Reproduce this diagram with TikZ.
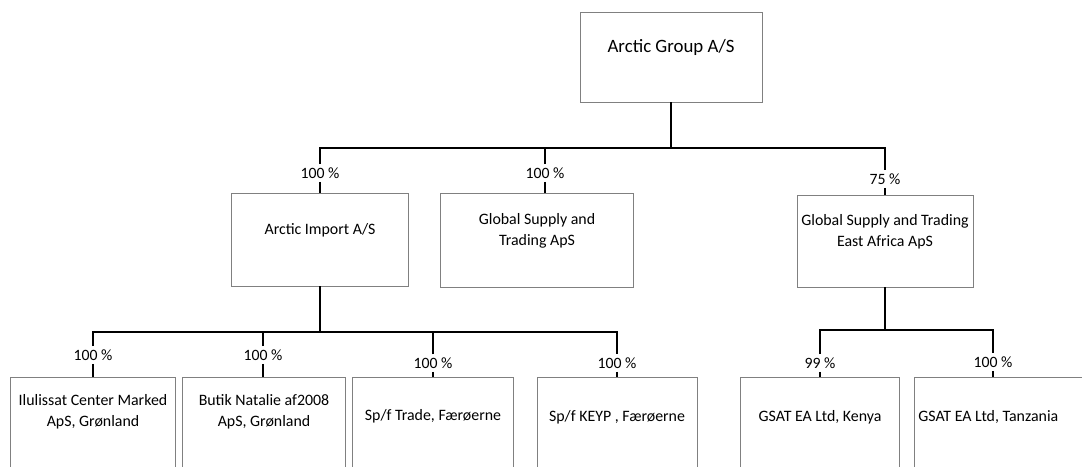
\documentclass[tikz,border=0pt]{standalone}
\usepackage{fontspec}
\setmainfont{Carlito}
\usetikzlibrary{positioning}

\begin{document}
\begin{tikzpicture}[x=0.025cm,y=-0.025cm]
		\tikzstyle{box_style} = [rectangle,draw=black!50,line width=0.5pt,inner sep=0pt]
		\tikzstyle{name_style} = [align=center,inner sep=0pt,font=\fontsize{11.3}{15}\selectfont]
		\tikzstyle{pct_style} = [inner sep=2.3pt,font=\fontsize{11.2}{13}\selectfont]
		\tikzstyle{edge_style} = [draw=black,line width=1.3pt]
		\useasboundingbox (0,0) rectangle (1082,466);
		% boxes
		\node[box_style,minimum width=4.55cm,minimum height=2.25cm] (top) at (671,57) {};
		\node[box_style,minimum width=4.425cm,minimum height=2.325cm] (ai) at (320,239.5) {};
		\node[box_style,minimum width=4.825cm,minimum height=2.35cm] (gs) at (536.5,240) {};
		\node[box_style,minimum width=4.4cm,minimum height=2.3cm] (ea) at (885,241) {};
		\node[box_style,minimum width=4.125cm,minimum height=2.375cm] (il) at (92.5,424.5) {};
		\node[box_style,minimum width=4.075cm,minimum height=2.375cm] (bn) at (263.5,424.5) {};
		\node[box_style,minimum width=4.025cm,minimum height=2.375cm] (st) at (432.5,424.5) {};
		\node[box_style,minimum width=4cm,minimum height=2.375cm] (sk) at (617,424.5) {};
		\node[box_style,minimum width=3.975cm,minimum height=2.375cm] (gk) at (819.5,424.5) {};
		\node[box_style,minimum width=4.25cm,minimum height=2.375cm] (gt) at (999,424.5) {};
		% names
		\node[name_style,font=\fontsize{13.4}{16}\selectfont] (t_top) at (671,47) {Arctic Group A/S};
		\node[name_style] (t_ai) at (320,230) {Arctic Import A/S};
		\node[name_style] (t_gs) at (537,231) {Global Supply and\\Trading ApS};
		\node[name_style] (t_ea) at (885,232) {Global Supply and Trading\\East Africa ApS};
		\node[name_style] (t_il) at (93,412) {Ilulissat Center Marked\\ApS, Grønland};
		\node[name_style] (t_bn) at (264,412) {Butik Natalie af2008\\ApS, Grønland};
		\node[name_style] (t_st) at (433,416) {Sp/f Trade, Færøerne};
		\node[name_style] (t_sk) at (617,417) {Sp/f KEYP , Færøerne};
		\node[name_style] (t_gk) at (820,417) {GSAT EA Ltd, Kenya};
		\node[name_style,anchor=west] (t_gt) at (918,417) {GSAT EA Ltd, Tanzania};
		% shares
		\node[pct_style] (p_ai) at (320,173) {100 \%};
		\node[pct_style] (p_gs) at (545,173) {100 \%};
		\node[pct_style] (p_ea) at (885,179) {75 \%};
		\node[pct_style] (p_il) at (93,355) {100 \%};
		\node[pct_style] (p_bn) at (263,355) {100 \%};
		\node[pct_style] (p_st) at (433,363) {100 \%};
		\node[pct_style] (p_sk) at (617,363) {100 \%};
		\node[pct_style] (p_gk) at (820,363) {99 \%};
		\node[pct_style] (p_gt) at (993,362) {100 \%};
		\coordinate (j1) at (671,148);
		\coordinate (j2) at (320,332);
		\coordinate (j3) at (885,330);
		% lines
		\draw[edge_style] (top) -- (j1);
		\draw[edge_style] (p_ai.north) -- (p_ai.north |- j1) -- (p_ea.north |- j1) -- (p_ea.north);
		\draw[edge_style] (p_gs.north) -- (p_gs.north |- j1);
		\draw[edge_style] (p_ai.south) -- (p_ai.south |- ai.north);
		\draw[edge_style] (p_gs.south) -- (p_gs.south |- gs.north);
		\draw[edge_style] (p_ea.south) -- (p_ea.south |- ea.north);
		\draw[edge_style] (ai) -- (j2);
		\draw[edge_style] (p_il.north) -- (p_il.north |- j2) -- (p_sk.north |- j2) -- (p_sk.north);
		\draw[edge_style] (p_bn.north) -- (p_bn.north |- j2);
		\draw[edge_style] (p_st.north) -- (p_st.north |- j2);
		\draw[edge_style] (ea) -- (j3);
		\draw[edge_style] (p_gk.north) -- (p_gk.north |- j3) -- (p_gt.north |- j3) -- (p_gt.north);
		\foreach \p/\b in {p_il/il,p_bn/bn,p_st/st,p_sk/sk,p_gk/gk,p_gt/gt}
			\draw[edge_style] (\p.south) -- (\p.south |- \b.north);
\end{tikzpicture}
\end{document}
